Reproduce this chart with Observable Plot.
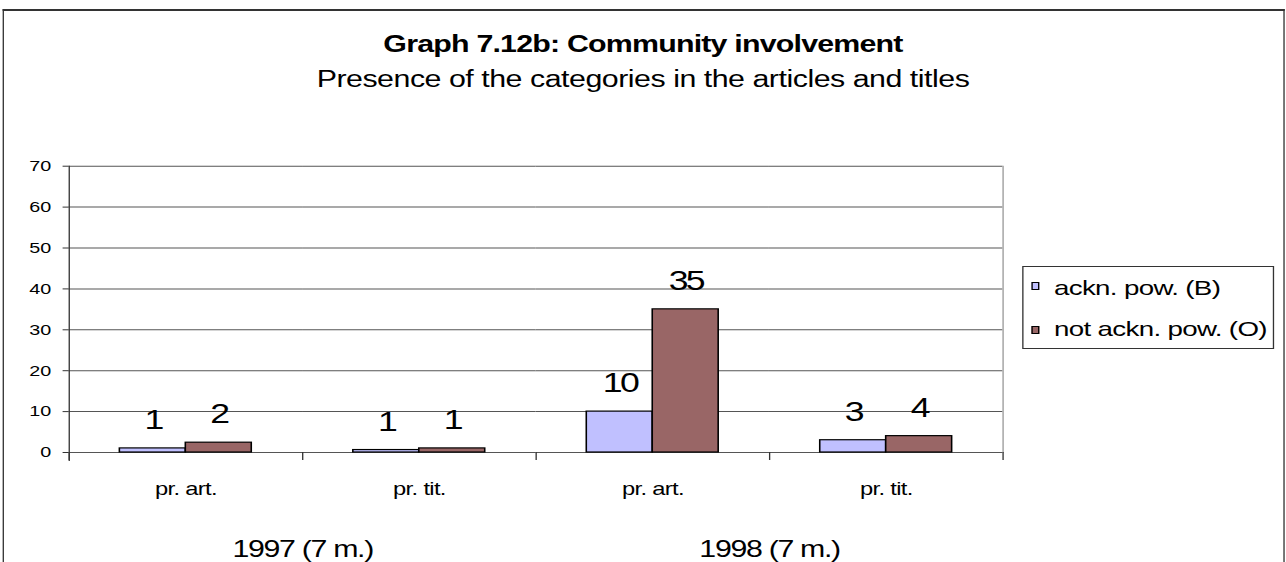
<!DOCTYPE html>
<html>
<head>
<meta charset="utf-8">
<script src="https://cdn.jsdelivr.net/npm/d3@7"></script>
<script src="https://cdn.jsdelivr.net/npm/@observablehq/plot@0.6"></script>
<style>
  html, body { margin: 0; padding: 0; background: #fff; }
  body { width: 1286px; height: 562px; overflow: hidden; position: relative; }
  #stage { position: absolute; left: 0; top: 0; width: 975px; height: 562px; transform-origin: 0 0;
           font-family: "Liberation Sans", Arial, sans-serif; color: #000; }
  #stage svg { position: absolute; left: 0; top: 0; }
  #stage svg g[font-size="27"] { letter-spacing: -2px; }
  #stage svg g[font-size="18"] { letter-spacing: -0.5px; }
  #stage svg g[font-size="23"] { letter-spacing: -1px; }
  .abs { position: absolute; white-space: nowrap; }
  #frame { left: 2.3px; top: 9px; width: 971.9px; height: 600px; box-sizing: border-box;
           border-left: 1.6px solid #333; border-right: 1.6px solid #333; border-top: 2px solid #333; }
  #title { left: 0; width: 975px; top: 31px; text-align: center; font-size: 23px; line-height: 26px; font-weight: bold; letter-spacing: -0.6px; }
  #subtitle { left: 0; width: 975px; top: 66px; text-align: center; font-size: 23px; line-height: 26px; letter-spacing: -0.36px; }
  #legend { left: 774.6px; top: 265.7px; width: 191.3px; height: 83.3px; box-sizing: border-box; border: 1px solid #333; background: #fff; }
  .sw { width: 6.1px; height: 8.2px; box-sizing: border-box; border: 1px solid #000; }
  .lt { font-size: 21px; line-height: 24px; letter-spacing: -0.5px; }
</style>
</head>
<body>
<div id="stage">
  <div id="frame" class="abs"></div>
  <div id="title" class="abs">Graph 7.12b: Community involvement</div>
  <div id="subtitle" class="abs">Presence of the categories in the articles and titles</div>
</div>
<script>
// ---- data ----
const years = ["1997 (7 m.)", "1998 (7 m.)"];
const measures = ["pr. art.", "pr. tit."];
const series = ["ackn. pow. (B)", "not ackn. pow. (O)"];
const acknPowB = [1, 0.6, 10, 3];        // 1997 art, 1997 tit, 1998 art, 1998 tit
const notAcknPowO = [2.4, 1, 35, 4];
const yTicks = [0, 10, 20, 30, 40, 50, 60, 70];
const colors = ["#c0c0ff", "#996666"];

// ---- derived tables ----
const groups = [];
years.forEach(y => measures.forEach(m => groups.push({key: y + "|" + m, year: y, measure: m})));
const groupKeys = groups.map(g => g.key);
const rows = [];
groups.forEach((g, i) => {
  rows.push({group: g.key, series: series[0], value: acknPowB[i]});
  rows.push({group: g.key, series: series[1], value: notAcknPowO[i]});
});
const yearLabels = years.map(y => ({label: y, key: groupKeys.filter(k => k.startsWith(y + "|"))[1]}));

const S = 1286 / 975;
const stage = document.getElementById("stage");
stage.style.transform = `scaleX(${S})`;

const W = 975, H = 562;
const mT = 165.7, mB = 110, mL = 51.5, mR = 215.3;
const plotH = H - mT - mB;

const chart = Plot.plot({
  width: W, height: H,
  marginTop: mT, marginBottom: mB, marginLeft: mL, marginRight: mR,
  style: {fontFamily: '"Liberation Sans", Arial, sans-serif', background: "transparent", overflow: "visible", color: "#000"},
  fx: {domain: groupKeys, padding: 0, label: null},
  x: {domain: series, paddingInner: 0, paddingOuter: 0.742, axis: null},
  y: {domain: [0, 70], label: null},
  color: {domain: series, range: colors},
  marks: [
    Plot.gridY(yTicks, {stroke: "#555", strokeOpacity: 1, strokeWidth: 1}),
    Plot.frame({anchor: "right", fx: () => groupKeys[groupKeys.length - 1], stroke: "#999", strokeWidth: 1}),
    Plot.barY(rows, {fx: "group", x: "series", y: "value", fill: "series", stroke: "#000", strokeWidth: 1.2}),
    Plot.text(rows, {fx: "group", x: "series", y: "value", text: d => String(Math.round(d.value)),
      lineAnchor: "middle", dy: -28, fontSize: 27, fill: "#000"}),
    Plot.axisY(yTicks, {tickSize: 4.55, tickPadding: 9, fontSize: 15, stroke: "#333", label: null}),
    Plot.axisFx({anchor: "bottom", tickSize: 0, tickPadding: 30, fontSize: 18, label: null,
      tickFormat: k => groups.find(g => g.key === k).measure}),
    Plot.frame({anchor: "left", fx: () => groupKeys[0], insetBottom: -8, stroke: "#333"}),
    Plot.frame({anchor: "left", insetTop: plotH, insetBottom: -7, stroke: "#333"}),
    Plot.frame({anchor: "right", fx: () => groupKeys[groupKeys.length - 1], insetTop: plotH, insetBottom: -7, stroke: "#333"}),
    Plot.text(yearLabels, {fx: "key", frameAnchor: "bottom-left", text: "label", textAnchor: "middle",
      lineAnchor: "middle", dy: 97, fontSize: 23, fill: "#000"})
  ]
});
stage.insertBefore(chart, document.getElementById("title"));

// legend (HTML)
const legend = document.createElement("div");
legend.id = "legend"; legend.className = "abs";
stage.appendChild(legend);
const swTops = [281.5, 325.8];
const txTops = [275.5, 316.5];
series.forEach((s, i) => {
  const sw = document.createElement("div");
  sw.className = "abs sw";
  sw.style.left = "782px"; sw.style.top = swTops[i] + "px"; sw.style.background = colors[i];
  stage.appendChild(sw);
  const t = document.createElement("div");
  t.className = "abs lt";
  t.style.left = "799.1px"; t.style.top = txTops[i] + "px";
  t.textContent = s;
  stage.appendChild(t);
});
</script>
</body>
</html>
